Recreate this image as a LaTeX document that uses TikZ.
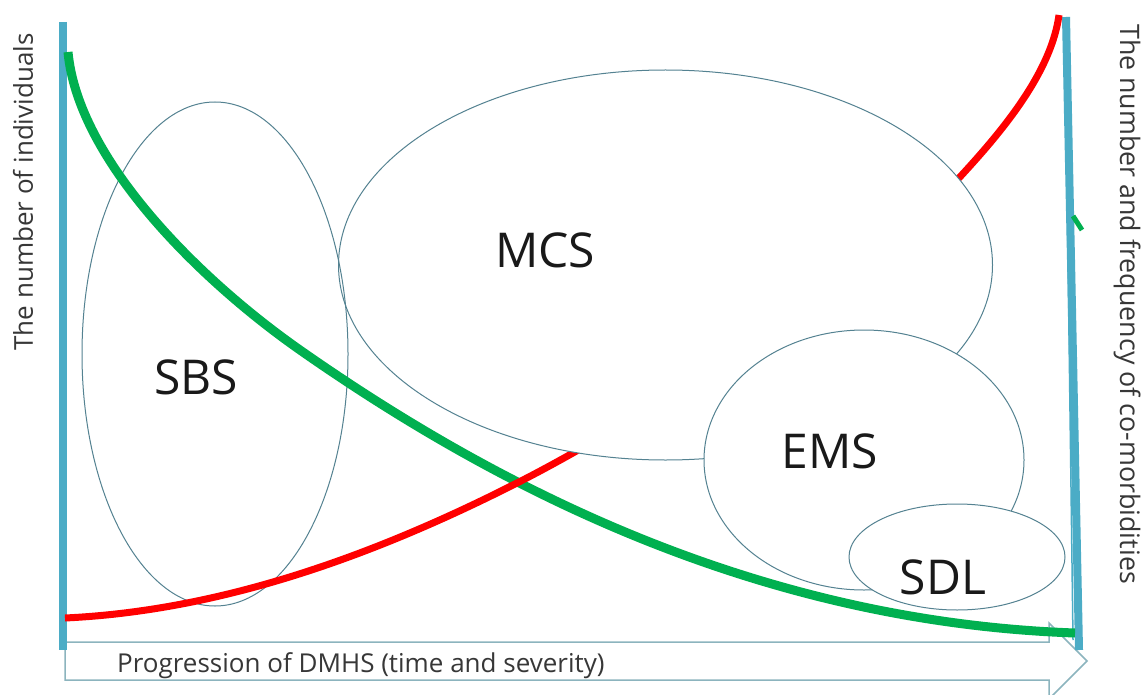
\documentclass[tikz,border=0pt]{standalone}
\usepackage{fontspec}
\setmainfont{Open Sans}
\usetikzlibrary{shapes.geometric}
\definecolor{axisblue}{RGB}{75,172,198}
\definecolor{curvegreen}{RGB}{0,176,80}
\definecolor{curvered}{RGB}{255,0,0}
\definecolor{ellline}{RGB}{84,130,145}
\definecolor{arrline}{RGB}{140,180,190}
\definecolor{txt}{RGB}{25,25,25}
\definecolor{axtxt}{RGB}{55,55,55}
\begin{document}
\begin{tikzpicture}[x=1pt,y=-1pt,
  axisline/.style={draw=axisblue,line width=8pt},
  thinaxis/.style={draw=axisblue,line width=1.5pt},
  gcurve/.style={draw=curvegreen,line width=9pt},
  rcurve/.style={draw=curvered,line width=7pt},
  region/.style={ellipse,draw=ellline,line width=1pt,inner sep=0pt,fill=white},
  blockarrow/.style={draw=arrline,line width=1.5pt,fill=white},
  biglabel/.style={font=\fontsize{48}{56}\selectfont,text=txt,inner sep=0pt},
  axislabel/.style={font=\fontsize{26}{30}\selectfont,text=axtxt,inner sep=0pt}]
\fill[white] (0,0) rectangle (1145,695);
\useasboundingbox (0,0) rectangle (1145,695);

% bottom block arrow
\draw[blockarrow] (65,642) -- (1049,642) -- (1049,623) -- (1087,661) -- (1049,699) -- (1049,680) -- (65,680) -- cycle;
\node[axislabel,anchor=base west] (prog) at (117,672) {Progression of DMHS (time and severity)};

% axes
\coordinate (la1) at (63,22);
\coordinate (la2) at (63,650);
\coordinate (ra1) at (1066,17);
\coordinate (ra2) at (1079,650);
\coordinate (rt1) at (1067,185);
\coordinate (rt2) at (1073,640);
\draw[axisline] (la1) -- (la2);
\draw[axisline] (ra1) -- (ra2);
\draw[thinaxis] (rt1) -- (rt2);

% SBS outline (no fill)
\node[region,fill=none,minimum width=266pt,minimum height=504pt] (sbs) at (215,354) {};

% curves
\coordinate (g0) at (68,52);
\coordinate (g1) at (300,350);
\coordinate (g2) at (1075,633);
\draw[gcurve] (g0) .. controls (78,160) and (200,280) .. (g1)
              .. controls (500,490) and (760,622) .. (g2);
\coordinate (r0) at (65,618);
\coordinate (r1) at (515,484);
\coordinate (r2) at (945,193);
\coordinate (r3) at (1059,15);
\draw[rcurve] (r0) .. controls (215,611) and (365,560) .. (r1)
              .. controls (615,434) and (845,293) .. (r2)
              .. controls (990,145) and (1050,80) .. (r3);
\coordinate (gb1) at (1073,216);
\coordinate (gb2) at (1082,230);
\draw[curvegreen,line width=5pt] (gb1) -- (gb2);

% regions
\node[region,minimum width=654pt,minimum height=390pt] (mcs) at (665.5,265) {};
\node[region,minimum width=320pt,minimum height=260pt] (ems) at (864,460) {};
\node[region,minimum width=216pt,minimum height=106pt] (sdl) at (957,557) {};
\begin{scope}
  \clip (665.5,265) ellipse [x radius=327, y radius=195];
  \node[region,fill=none,minimum width=266pt,minimum height=504pt] (sbsb) at (215,354) {};
\end{scope}

% labels
\node[biglabel] (sbsl) at (196,377) {SBS};
\node[biglabel] (mcsl) at (545,250) {MCS};
\node[biglabel] (emsl) at (830,451) {EMS};
\node[biglabel] (sdll) at (943,577) {SDL};

\node[axislabel,rotate=90] (ylab) at (23,192) {The number of individuals};
\node[axislabel,font=\fontsize{26.8}{30}\selectfont,rotate=-90,anchor=base] (rlab) at (1120,304) {The number and frequency of co-morbidities};
\end{tikzpicture}
\end{document}
